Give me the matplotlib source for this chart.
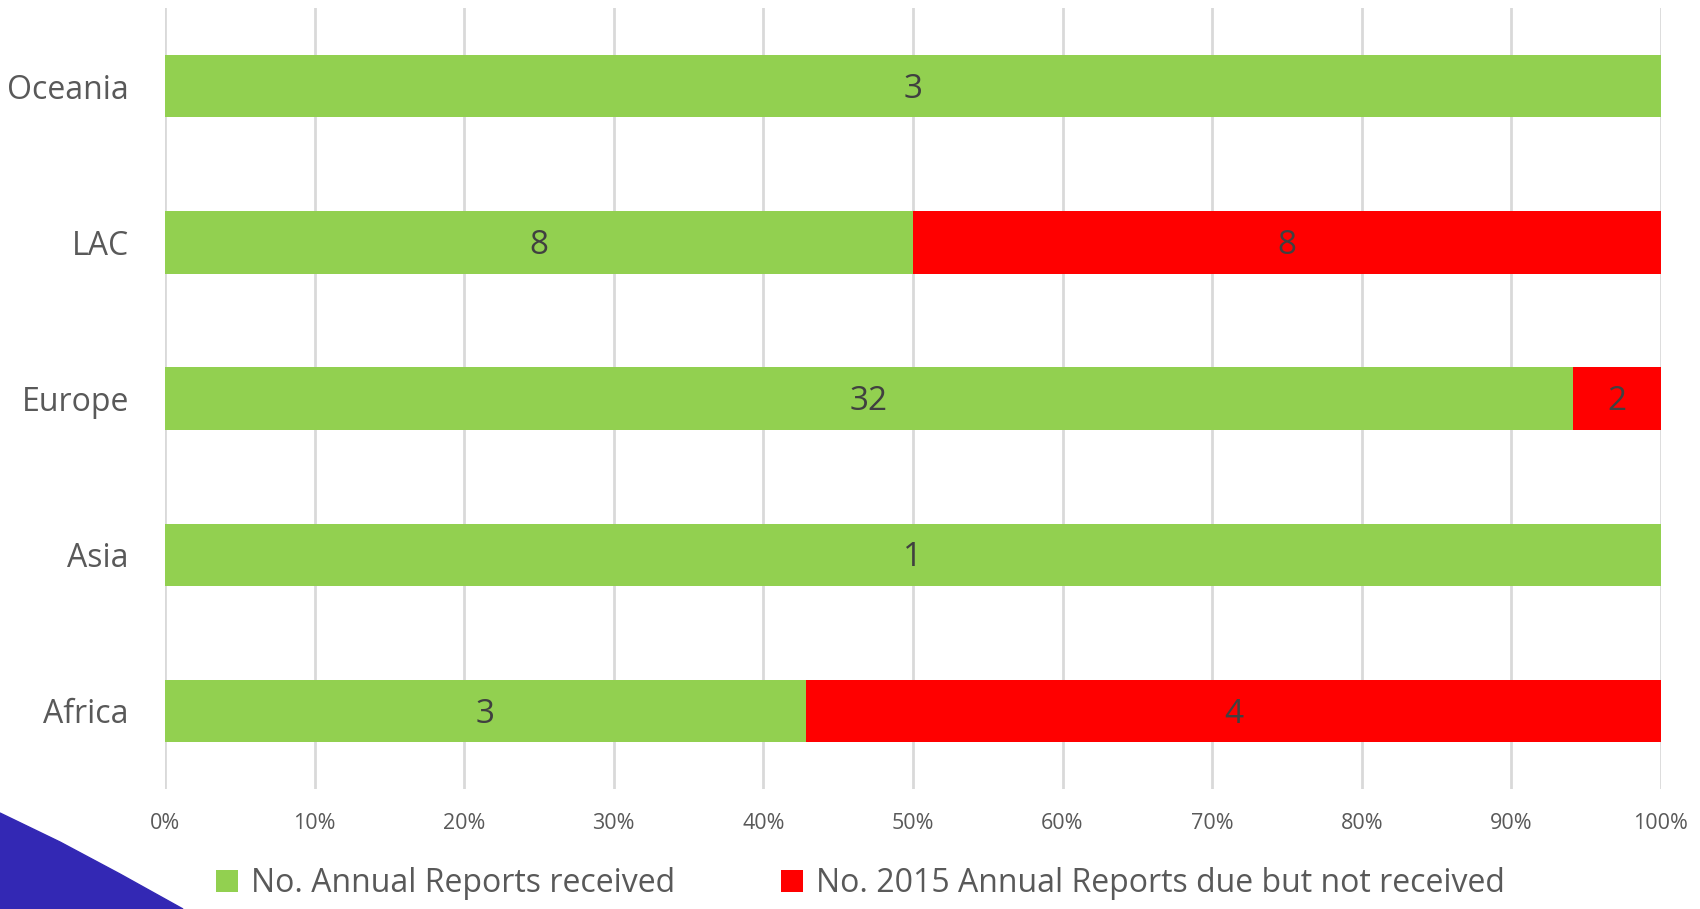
import matplotlib.pyplot as plt
import numpy as np
from matplotlib.patches import Polygon
from matplotlib.ticker import FuncFormatter

# data, bottom to top
regions = ['Africa', 'Asia', 'Europe', 'LAC', 'Oceania']
received = [3, 1, 32, 8, 3]
not_received = [4, 0, 2, 8, 0]

GREEN = '#92d050'
RED = '#ff0000'
plt.rcParams['font.family'] = ['Open Sans', 'DejaVu Sans']

fig = plt.figure(figsize=(17, 9.09), dpi=100, facecolor='white')
ax = fig.add_axes([0.097, 0.132, 0.880, 0.859])

rec = np.array(received, dtype=float)
nrec = np.array(not_received, dtype=float)
tot = rec + nrec
p_rec = rec / tot
p_nrec = nrec / tot
y = np.arange(len(regions))

ax.barh(y, p_rec, height=0.4, color=GREEN, zorder=3,
        label='No. Annual Reports received')
ax.barh(y, p_nrec, left=p_rec, height=0.4, color=RED, zorder=3,
        label='No. 2015 Annual Reports due but not received')

# value labels in the middle of each segment
for i in range(len(regions)):
    if rec[i] > 0:
        ax.text(p_rec[i] / 2, y[i] - 0.02, f'{int(rec[i])}', ha='center',
                va='center', fontsize=24, color='#404040', zorder=4)
    if nrec[i] > 0:
        ax.text(p_rec[i] + p_nrec[i] / 2, y[i] - 0.02, f'{int(nrec[i])}',
                ha='center', va='center', fontsize=24, color='#404040', zorder=4)

ax.set_xlim(0, 1)
ax.set_ylim(-0.5, 4.5)
ax.set_xticks(np.linspace(0, 1, 11))
ax.xaxis.set_major_formatter(FuncFormatter(lambda v, pos: f'{v * 100:.0f}%'))
ax.set_yticks(y)
ax.set_yticklabels(regions)
ax.tick_params(axis='x', length=0, pad=17, labelsize=15.5, labelcolor='#595959')
ax.tick_params(axis='y', length=0, pad=26, labelsize=23, labelcolor='#595959')
ax.grid(axis='x', color='#d9d9d9', linewidth=2, zorder=0)
for s in ax.spines.values():
    s.set_visible(False)

leg = fig.legend(loc='center', bbox_to_anchor=(0.506, 0.028), ncol=2, frameon=False,
                 fontsize=23, handlelength=0.7, handleheight=0.7,
                 handletextpad=0.4, columnspacing=3.3)
for t in leg.get_texts():
    t.set_color('#595959')

# blue decoration in the lower left corner (slide background)
W, H = 1700, 909
pts = [(0, 813), (60, 842), (120, 874), (183, 909), (0, 909)]
fig.patches.append(Polygon([(px / W, 1 - py / H) for px, py in pts], closed=True,
                           transform=fig.transFigure, color='#3328b4', zorder=0))

fig.savefig('out.png', dpi=100, facecolor=fig.get_facecolor())
